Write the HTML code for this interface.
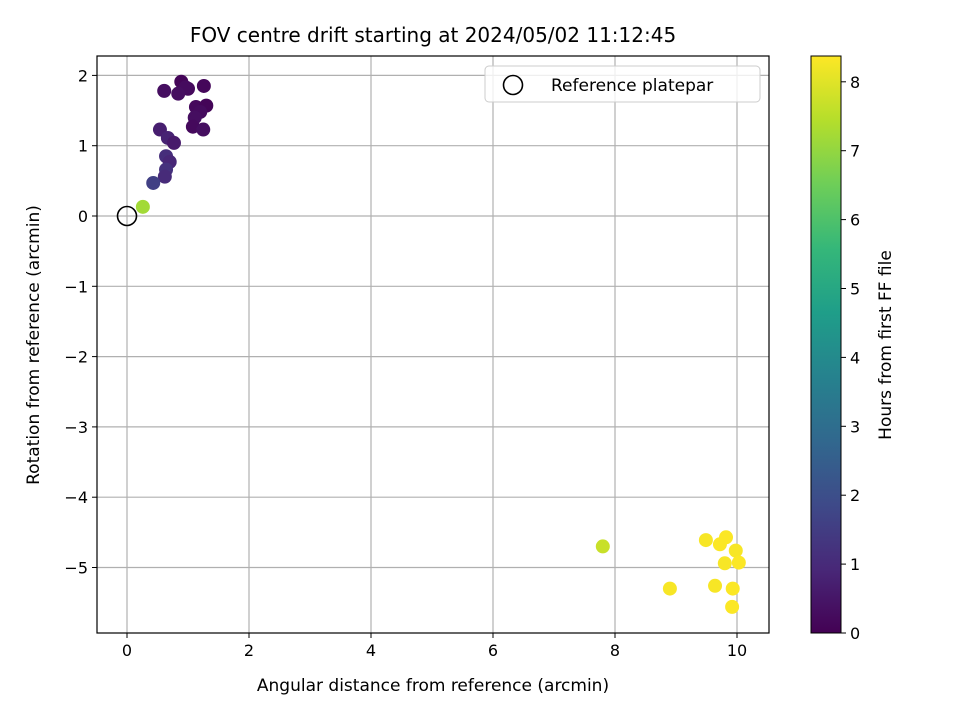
<!DOCTYPE html>
<html><head><meta charset="utf-8"><style>
body{margin:0;background:#fff}
svg{display:block;font-family:"DejaVu Sans","Liberation Sans",sans-serif}
</style></head><body>
<svg id="chart" width="960" height="720" viewBox="0 0 960 720"></svg>
<script>
const xVals=[0.61,0.89,1.0,0.96,0.84,1.26,1.13,1.3,1.2,1.11,1.08,1.25,0.54,0.67,0.77,0.64,0.7,0.64,0.62,0.43,0.26,7.8,8.9,9.49,9.72,9.82,9.98,10.03,9.8,9.64,9.93,9.92];
const yVals=[1.78,1.91,1.81,1.83,1.74,1.85,1.55,1.57,1.48,1.40,1.27,1.23,1.23,1.11,1.04,0.85,0.77,0.66,0.56,0.47,0.13,-4.70,-5.30,-4.61,-4.67,-4.57,-4.76,-4.93,-4.94,-5.26,-5.30,-5.56];
const hours=[0.3,0.1,0.2,0.25,0.3,0.15,0.2,0.1,0.25,0.3,0.2,0.3,0.7,0.8,0.6,1.1,0.9,1.2,1.0,1.6,7.2,7.7,8.3,8.3,8.35,8.35,8.3,8.35,8.3,8.3,8.35,8.35];
const xTicks=[0,2,4,6,8,10];
const yTicks=[2,1,0,-1,-2,-3,-4,-5];
const cTicks=[0,1,2,3,4,5,6,7,8];
const L=97,R=769,T=56,B=633;
const X=v=>127+v*61, Y=v=>216-v*70.3;
const CB=v=>633-v*68.9;
const vir=[[68,1,84],[72,40,120],[62,74,137],[49,104,142],[38,130,142],[31,158,137],[53,183,121],[110,206,88],[181,222,43],[253,231,37]];
function cmap(t){t=Math.max(0,Math.min(1,t))*9;const i=Math.min(8,Math.floor(t)),f=t-i;const a=vir[i],b=vir[i+1];return `rgb(${a.map((c,k)=>Math.round(c+(b[k]-c)*f)).join(',')})`;}
const vmax=8.38;
const svg=document.getElementById('chart');const NS='http://www.w3.org/2000/svg';
function el(tag,attrs,name,parent,text){const e=document.createElementNS(NS,tag);for(const k in attrs)e.setAttribute(k,attrs[k]);


if(text!==undefined)e.textContent=text;(parent||svg).appendChild(e);return e;}
el('text',{x:433,y:42,'font-size':20,'text-anchor':'middle'},'chart-title',svg,'FOV centre drift starting at 2024/05/02 11:12:45');
const grid=el('g',{stroke:'#b0b0b0','stroke-width':1.2},'grid');
xTicks.forEach(t=>{el('line',{x1:X(t),x2:X(t),y1:T,y2:B},'x-grid-line',grid);
el('line',{x1:X(t),x2:X(t),y1:B,y2:B+5,stroke:'#000'},'x-tick');
el('text',{x:X(t),y:B+23,'font-size':16,'text-anchor':'middle'},'x-tick-label',svg,String(t));});
yTicks.forEach(t=>{el('line',{x1:L-5,x2:L,y1:Y(t),y2:Y(t),stroke:'#000'},'y-tick');
el('line',{x1:L,x2:R,y1:Y(t),y2:Y(t)},'y-grid-line',grid);
el('text',{x:L-9,y:Y(t)+6,'font-size':16,'text-anchor':'end'},'y-tick-label',svg,t<0?'\u2212'+(-t):String(t));});
const pts=el('g',{},'scatter-points');
xVals.forEach((v,i)=>{el('circle',{cx:X(v),cy:Y(yVals[i]),r:7,fill:cmap(hours[i]/vmax)},'drift-point',pts);});
el('circle',{cx:X(0),cy:Y(0),r:9.5,fill:'none',stroke:'#000','stroke-width':1.6},'reference-platepar-marker');
el('rect',{x:L,y:T,width:R-L,height:B-T,fill:'none',stroke:'#000','stroke-width':1.2},'plot-frame');
el('text',{x:433,y:691,'font-size':17,'text-anchor':'middle'},'x-axis-title',svg,'Angular distance from reference (arcmin)');
el('text',{x:0,y:0,'font-size':17,'text-anchor':'middle',transform:'translate(39,345) rotate(-90)'},'y-axis-title',svg,'Rotation from reference (arcmin)');
const lg=el('g',{},'legend');
el('rect',{x:485,y:66,width:275,height:36,rx:4,fill:'#fff','fill-opacity':0.8,stroke:'#ccc'},'legend-box',lg);
el('circle',{cx:513,cy:85,r:9.5,fill:'none',stroke:'#000','stroke-width':1.6},'legend-marker',lg);
el('text',{x:551,y:91,'font-size':17},'legend-label',lg,'Reference platepar');
const defs=el('defs',{},'defs');const gr=el('linearGradient',{id:'vg',x1:0,y1:1,x2:0,y2:0},'viridis-gradient',defs);
vir.forEach((c,i)=>el('stop',{offset:i/9,'stop-color':`rgb(${c})`},'gradient-stop',gr));
el('rect',{x:811,y:T,width:30,height:B-T,fill:'url(#vg)',stroke:'#000','stroke-width':1},'colorbar');
cTicks.forEach(t=>{el('line',{x1:841,x2:846,y1:CB(t),y2:CB(t),stroke:'#000'},'colorbar-tick');
el('text',{x:850,y:CB(t)+6,'font-size':16},'colorbar-tick-label',svg,String(t));});
el('text',{x:0,y:0,'font-size':17,'text-anchor':'middle',transform:'translate(891,345) rotate(-90)'},'colorbar-title',svg,'Hours from first FF file');
</script>
</body></html>
